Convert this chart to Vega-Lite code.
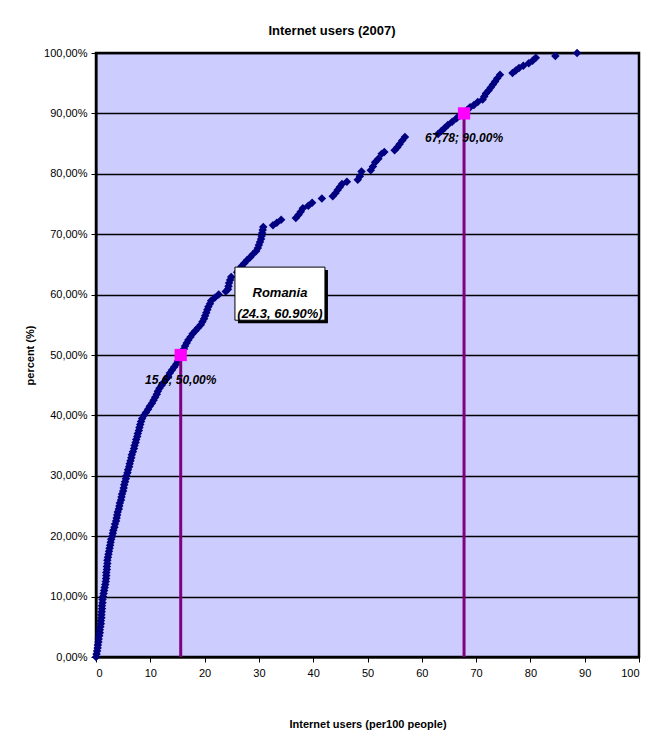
{
  "$schema": "https://vega.github.io/schema/vega-lite/v6.json",
  "width": 543,
  "height": 604,
  "autosize": {"type": "none"},
  "padding": {"left": 96, "top": 53, "right": 12, "bottom": 90},
  "background": "white",
  "config": {
    "font": "Liberation Sans",
    "view": {"fill": "#CCCCFF", "stroke": "black", "strokeWidth": 2.5}
  },
  "title": {
    "text": "Internet users (2007)",
    "fontSize": 13,
    "fontWeight": "bold",
    "color": "black",
    "anchor": "middle",
    "frame": "bounds",
    "offset": 9
  },
  "datasets": {
    "countries": [
      {"x":0.0,"p":0.0},{"x":0.1,"p":0.005},{"x":0.2,"p":0.01},{"x":0.3,"p":0.015},{"x":0.35,"p":0.02},
      {"x":0.45,"p":0.025},{"x":0.5,"p":0.03},{"x":0.6,"p":0.035},{"x":0.7,"p":0.04},{"x":0.7,"p":0.045},
      {"x":0.8,"p":0.05},{"x":0.9,"p":0.055},{"x":0.9,"p":0.06},{"x":1.0,"p":0.065},{"x":1.0,"p":0.07},
      {"x":1.05,"p":0.075},{"x":1.1,"p":0.08},{"x":1.1,"p":0.085},{"x":1.2,"p":0.09},{"x":1.2,"p":0.095},
      {"x":1.3,"p":0.1},{"x":1.4,"p":0.105},{"x":1.5,"p":0.11},{"x":1.6,"p":0.115},{"x":1.7,"p":0.12},
      {"x":1.8,"p":0.125},{"x":1.85,"p":0.13},{"x":1.9,"p":0.135},{"x":1.9,"p":0.14},{"x":2.0,"p":0.145},
      {"x":2.0,"p":0.15},{"x":2.1,"p":0.155},{"x":2.1,"p":0.16},{"x":2.2,"p":0.165},{"x":2.3,"p":0.17},
      {"x":2.4,"p":0.175},{"x":2.5,"p":0.18},{"x":2.6,"p":0.185},{"x":2.7,"p":0.19},{"x":2.8,"p":0.195},
      {"x":3.0,"p":0.2},{"x":3.1,"p":0.205},{"x":3.2,"p":0.21},{"x":3.4,"p":0.215},{"x":3.5,"p":0.22},
      {"x":3.7,"p":0.225},{"x":3.8,"p":0.23},{"x":3.9,"p":0.235},{"x":4.0,"p":0.24},{"x":4.2,"p":0.245},
      {"x":4.3,"p":0.25},{"x":4.4,"p":0.255},{"x":4.6,"p":0.26},{"x":4.7,"p":0.265},{"x":4.8,"p":0.27},
      {"x":5.0,"p":0.275},{"x":5.1,"p":0.28},{"x":5.2,"p":0.285},{"x":5.35,"p":0.29},{"x":5.5,"p":0.295},
      {"x":5.6,"p":0.3},{"x":5.8,"p":0.305},{"x":5.9,"p":0.31},{"x":6.1,"p":0.315},{"x":6.2,"p":0.32},
      {"x":6.35,"p":0.325},{"x":6.5,"p":0.33},{"x":6.6,"p":0.335},{"x":6.8,"p":0.34},{"x":7.0,"p":0.345},
      {"x":7.1,"p":0.35},{"x":7.3,"p":0.355},{"x":7.4,"p":0.36},{"x":7.6,"p":0.365},{"x":7.7,"p":0.37},
      {"x":7.9,"p":0.375},{"x":8.0,"p":0.38},{"x":8.15,"p":0.385},{"x":8.3,"p":0.39},{"x":8.5,"p":0.395},
      {"x":8.8,"p":0.4},{"x":9.2,"p":0.405},{"x":9.6,"p":0.41},{"x":9.9,"p":0.415},{"x":10.3,"p":0.42},
      {"x":10.6,"p":0.425},{"x":10.9,"p":0.43},{"x":11.2,"p":0.435},{"x":11.4,"p":0.44},{"x":11.7,"p":0.445},
      {"x":12.1,"p":0.45},{"x":12.5,"p":0.455},{"x":12.9,"p":0.46},{"x":13.3,"p":0.465},{"x":13.6,"p":0.47},
      {"x":14.0,"p":0.475},{"x":14.4,"p":0.48},{"x":14.8,"p":0.485},{"x":15.1,"p":0.49},{"x":15.4,"p":0.495},
      {"x":15.6,"p":0.5},{"x":15.9,"p":0.505},{"x":16.2,"p":0.51},{"x":16.4,"p":0.515},{"x":16.7,"p":0.52},
      {"x":17.0,"p":0.525},{"x":17.4,"p":0.53},{"x":17.8,"p":0.535},{"x":18.3,"p":0.54},{"x":18.8,"p":0.545},
      {"x":19.3,"p":0.55},{"x":19.6,"p":0.555},{"x":19.9,"p":0.56},{"x":20.1,"p":0.565},{"x":20.3,"p":0.57},
      {"x":20.5,"p":0.575},{"x":20.7,"p":0.58},{"x":21.0,"p":0.585},{"x":21.2,"p":0.59},{"x":21.9,"p":0.595},
      {"x":22.6,"p":0.6},{"x":23.9,"p":0.605},{"x":24.3,"p":0.609},{"x":24.4,"p":0.614},{"x":24.5,"p":0.619},
      {"x":24.7,"p":0.624},{"x":24.9,"p":0.629},{"x":26.0,"p":0.637},{"x":26.4,"p":0.642},{"x":26.8,"p":0.647},
      {"x":27.3,"p":0.652},{"x":27.8,"p":0.657},{"x":28.4,"p":0.662},{"x":28.9,"p":0.667},{"x":29.5,"p":0.672},
      {"x":29.8,"p":0.677},{"x":30.0,"p":0.682},{"x":30.2,"p":0.687},{"x":30.4,"p":0.692},{"x":30.5,"p":0.697},
      {"x":30.6,"p":0.702},{"x":30.7,"p":0.707},{"x":30.8,"p":0.712},{"x":32.6,"p":0.715},{"x":33.3,"p":0.719},
      {"x":34.1,"p":0.724},{"x":36.8,"p":0.727},{"x":37.3,"p":0.732},{"x":37.7,"p":0.737},{"x":38.1,"p":0.743},
      {"x":39.1,"p":0.747},{"x":39.8,"p":0.752},{"x":41.6,"p":0.759},{"x":43.6,"p":0.763},{"x":44.1,"p":0.768},
      {"x":44.5,"p":0.773},{"x":44.9,"p":0.778},{"x":45.3,"p":0.783},{"x":46.2,"p":0.787},{"x":48.2,"p":0.79},
      {"x":48.6,"p":0.796},{"x":48.9,"p":0.804},{"x":50.6,"p":0.806},{"x":51.0,"p":0.812},{"x":51.4,"p":0.819},
      {"x":52.0,"p":0.825},{"x":52.6,"p":0.833},{"x":53.1,"p":0.836},{"x":55.0,"p":0.839},{"x":55.5,"p":0.844},
      {"x":55.9,"p":0.849},{"x":56.4,"p":0.855},{"x":56.9,"p":0.861},{"x":63.0,"p":0.866},{"x":63.6,"p":0.871},
      {"x":64.2,"p":0.876},{"x":64.8,"p":0.881},{"x":65.6,"p":0.886},{"x":66.4,"p":0.892},{"x":67.0,"p":0.896},
      {"x":67.78,"p":0.9},{"x":68.4,"p":0.906},{"x":68.9,"p":0.91},{"x":69.6,"p":0.914},{"x":70.3,"p":0.919},
      {"x":71.2,"p":0.923},{"x":71.5,"p":0.928},{"x":71.8,"p":0.933},{"x":72.3,"p":0.938},{"x":72.7,"p":0.943},
      {"x":73.1,"p":0.948},{"x":73.5,"p":0.953},{"x":73.9,"p":0.958},{"x":74.4,"p":0.964},{"x":76.7,"p":0.967},
      {"x":77.3,"p":0.971},{"x":77.9,"p":0.975},{"x":78.7,"p":0.979},{"x":79.7,"p":0.983},{"x":80.4,"p":0.987},
      {"x":81.0,"p":0.992},{"x":84.6,"p":0.995},{"x":88.6,"p":1.0}
    ],
    "quantiles": [
      {"x": 15.6, "p": 0.5},
      {"x": 67.78, "p": 0.9}
    ],
    "highlight": [
      {"name": "Romania", "x": 24.3, "p": 0.609}
    ]
  },
  "layer": [
    {
      "data": {"name": "countries"},
      "mark": {"type": "point", "shape": "diamond", "filled": true, "size": 72, "color": "#000080", "opacity": 1},
      "encoding": {
        "x": {
          "field": "x",
          "type": "quantitative",
          "scale": {"domain": [0, 100], "nice": false},
          "axis": {
            "values": [0, 10, 20, 30, 40, 50, 60, 70, 80, 90, 100],
            "title": "Internet users (per100 people)",
            "grid": false,
            "domainColor": "black",
            "domainWidth": 2,
            "tickColor": "black",
            "tickSize": 5,
            "tickWidth": 1,
            "labelFontSize": 11,
            "labelColor": "black",
            "labelPadding": 5,
            "titleFontSize": 11,
            "titleFontWeight": "bold",
            "titleColor": "black",
            "titlePadding": 40
          }
        },
        "y": {
          "field": "p",
          "type": "quantitative",
          "scale": {"domain": [0, 1], "nice": false},
          "axis": {
            "values": [0, 0.1, 0.2, 0.3, 0.4, 0.5, 0.6, 0.7, 0.8, 0.9, 1],
            "format": ".2%",
            "labelExpr": "replace(datum.label, '.', ',')",
            "title": "percent (%)",
            "grid": true,
            "gridColor": "black",
            "gridWidth": 1.6,
            "gridOpacity": 1,
            "domainColor": "black",
            "domainWidth": 2,
            "tickColor": "black",
            "tickSize": 5,
            "tickWidth": 1,
            "labelFontSize": 11,
            "labelColor": "black",
            "labelPadding": 4,
            "titleFontSize": 11,
            "titleFontWeight": "bold",
            "titleColor": "black",
            "titlePadding": 8
          }
        }
      }
    },
    {
      "data": {"name": "quantiles"},
      "mark": {"type": "rule", "color": "#800080", "strokeWidth": 3},
      "encoding": {
        "x": {"field": "x", "type": "quantitative"},
        "y": {"field": "p", "type": "quantitative"},
        "y2": {"datum": 0}
      }
    },
    {
      "data": {"name": "quantiles"},
      "mark": {"type": "point", "shape": "square", "filled": true, "size": 150, "color": "#FF00FF", "opacity": 1},
      "encoding": {
        "x": {"field": "x", "type": "quantitative"},
        "y": {"field": "p", "type": "quantitative"}
      }
    },
    {
      "data": {"name": "quantiles"},
      "transform": [
        {"calculate": "replace(toString(datum.x), '.', ',') + '; ' + replace(format(datum.p, '.2%'), '.', ',')", "as": "label"}
      ],
      "mark": {"type": "text", "dy": 25, "align": "center", "baseline": "middle", "fontSize": 12, "fontStyle": "italic", "fontWeight": "bold", "color": "black"},
      "encoding": {
        "x": {"field": "x", "type": "quantitative"},
        "y": {"field": "p", "type": "quantitative"},
        "text": {"field": "label"}
      }
    },
    {
      "data": {"name": "highlight"},
      "mark": {"type": "point", "shape": "M-1,-0.59H1V0.59H-1Z", "size": 8100, "filled": true, "color": "black", "opacity": 1, "xOffset": 55, "yOffset": 7.5},
      "encoding": {
        "x": {"field": "x", "type": "quantitative"},
        "y": {"field": "p", "type": "quantitative"}
      }
    },
    {
      "data": {"name": "highlight"},
      "mark": {"type": "point", "shape": "M-1,-0.59H1V0.59H-1Z", "size": 8100, "filled": true, "fill": "white", "stroke": "black", "strokeWidth": 1, "opacity": 1, "xOffset": 52, "yOffset": 4.5},
      "encoding": {
        "x": {"field": "x", "type": "quantitative"},
        "y": {"field": "p", "type": "quantitative"}
      }
    },
    {
      "data": {"name": "highlight"},
      "transform": [
        {"calculate": "[datum.name, '(' + toString(datum.x) + ', ' + format(datum.p, '.2%') + ')']", "as": "label"}
      ],
      "mark": {"type": "text", "dx": 52, "dy": 4, "align": "center", "baseline": "middle", "fontSize": 13, "lineHeight": 21, "fontStyle": "italic", "fontWeight": "bold", "color": "black"},
      "encoding": {
        "x": {"field": "x", "type": "quantitative"},
        "y": {"field": "p", "type": "quantitative"},
        "text": {"field": "label"}
      }
    }
  ]
}
